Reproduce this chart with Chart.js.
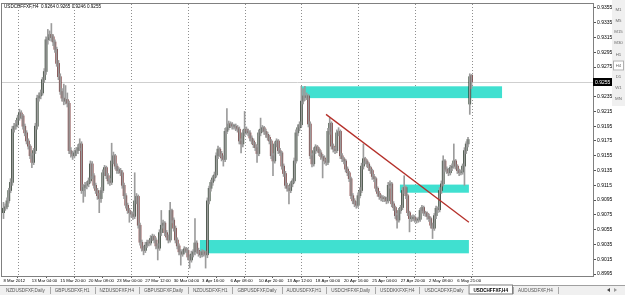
<!DOCTYPE html>
<html>
<head>
<meta charset="utf-8">
<script src="https://cdn.jsdelivr.net/npm/chart.js@4.4.1/dist/chart.umd.min.js"></script>
<style>
  html, body { margin: 0; padding: 0; background: #fff; }
</style>
</head>
<body>
<canvas id="grafico" width="625" height="295"></canvas>
<script>
// USDCHF H4 - precios en pips (x 0.0001), una vela por cada 4 horas
const aperturas = [
  9078, 9084, 9086, 9094, 9108, 9119, 9191, 9195, 9197, 9206,
  9213, 9209, 9195, 9186, 9175, 9168, 9155, 9146, 9162, 9195,
  9233, 9236, 9240, 9258, 9269, 9312, 9315, 9319, 9316, 9309,
  9299, 9280, 9262, 9242, 9233, 9229, 9231, 9226, 9162, 9158,
  9155, 9159, 9162, 9166, 9171, 9108, 9112, 9115, 9117, 9121,
  9144, 9128, 9115, 9108, 9101, 9097, 9108, 9132, 9139, 9128,
  9121, 9119, 9148, 9155, 9141, 9135, 9135, 9132, 9115, 9101,
  9088, 9081, 9078, 9076, 9073, 9094, 9100, 9061, 9038, 9030,
  9027, 9034, 9038, 9037, 9043, 9046, 9041, 9033, 9030, 9051,
  9061, 9064, 9051, 9045, 9041, 9081, 9068, 9057, 9041, 9033,
  9025, 9022, 9025, 9029, 9027, 9018, 9014, 9022, 9025, 9037,
  9027, 9023, 9021, 9025, 9023, 9021, 9094, 9111, 9119, 9125,
  9129, 9155, 9164, 9158, 9152, 9150, 9188, 9193, 9198, 9197,
  9195, 9195, 9193, 9191, 9175, 9171, 9186, 9191, 9188, 9186,
  9179, 9175, 9170, 9166, 9158, 9186, 9191, 9193, 9188, 9184,
  9180, 9175, 9155, 9148, 9171, 9175, 9162, 9159, 9141, 9131,
  9115, 9111, 9108, 9117, 9121, 9148, 9186, 9193, 9197, 9229,
  9236, 9234, 9236, 9198, 9155, 9144, 9162, 9167, 9164, 9159,
  9154, 9152, 9148, 9146, 9188, 9199, 9168, 9164, 9162, 9186,
  9188, 9155, 9151, 9148, 9137, 9132, 9124, 9101, 9094, 9090,
  9088, 9101, 9108, 9141, 9151, 9148, 9144, 9139, 9135, 9127,
  9124, 9111, 9104, 9100, 9098, 9097, 9097, 9094, 9115, 9117,
  9090, 9085, 9074, 9068, 9081, 9085, 9108, 9112, 9101, 9078,
  9070, 9070, 9072, 9069, 9068, 9069, 9081, 9085, 9078, 9077,
  9073, 9070, 9061, 9057, 9074, 9084, 9082, 9108, 9117, 9148,
  9137, 9135, 9132, 9139, 9141, 9148, 9141, 9135, 9132, 9133,
  9141, 9162, 9171, 9225, 9264
]
const maximos = [
  9092, 9090, 9098, 9111, 9124, 9195, 9199, 9203, 9210, 9218,
  9216, 9211, 9198, 9189, 9178, 9170, 9158, 9165, 9199, 9237,
  9240, 9244, 9261, 9273, 9316, 9326, 9324, 9334, 9319, 9312,
  9302, 9284, 9266, 9246, 9252, 9250, 9240, 9229, 9166, 9161,
  9163, 9166, 9170, 9178, 9174, 9116, 9119, 9120, 9125, 9148,
  9147, 9131, 9118, 9111, 9104, 9112, 9136, 9142, 9141, 9131,
  9124, 9172, 9160, 9157, 9144, 9139, 9138, 9135, 9118, 9104,
  9091, 9084, 9080, 9079, 9132, 9104, 9102, 9064, 9041, 9033,
  9038, 9041, 9041, 9047, 9049, 9048, 9044, 9036, 9055, 9081,
  9068, 9066, 9054, 9048, 9092, 9083, 9071, 9060, 9044, 9036,
  9028, 9028, 9032, 9031, 9030, 9021, 9026, 9028, 9070, 9040,
  9030, 9026, 9028, 9027, 9026, 9098, 9114, 9122, 9128, 9133,
  9159, 9168, 9166, 9161, 9155, 9192, 9219, 9202, 9201, 9200,
  9198, 9198, 9196, 9194, 9178, 9190, 9215, 9194, 9191, 9189,
  9182, 9178, 9173, 9169, 9190, 9206, 9196, 9195, 9191, 9187,
  9183, 9177, 9158, 9174, 9178, 9177, 9165, 9161, 9144, 9134,
  9118, 9114, 9120, 9124, 9152, 9190, 9197, 9201, 9249, 9246,
  9249, 9240, 9238, 9201, 9158, 9166, 9170, 9169, 9166, 9162,
  9157, 9155, 9150, 9192, 9206, 9201, 9171, 9166, 9190, 9193,
  9190, 9158, 9153, 9150, 9140, 9134, 9126, 9104, 9097, 9093,
  9105, 9112, 9145, 9171, 9153, 9150, 9146, 9141, 9137, 9130,
  9126, 9113, 9107, 9102, 9101, 9100, 9099, 9119, 9121, 9119,
  9093, 9087, 9077, 9084, 9088, 9112, 9128, 9114, 9103, 9080,
  9074, 9075, 9074, 9071, 9072, 9084, 9088, 9087, 9080, 9079,
  9076, 9072, 9064, 9077, 9087, 9086, 9112, 9121, 9155, 9150,
  9140, 9138, 9142, 9144, 9171, 9150, 9143, 9137, 9136, 9144,
  9166, 9174, 9180, 9266, 9265
]
const minimos = [
  9070, 9081, 9083, 9091, 9105, 9115, 9187, 9191, 9194, 9203,
  9205, 9191, 9182, 9171, 9164, 9151, 9139, 9143, 9158, 9191,
  9229, 9232, 9237, 9254, 9265, 9306, 9311, 9310, 9304, 9295,
  9276, 9258, 9238, 9229, 9224, 9225, 9221, 9158, 9153, 9150,
  9152, 9155, 9158, 9162, 9104, 9092, 9100, 9110, 9113, 9118,
  9124, 9111, 9104, 9096, 9078, 9092, 9105, 9128, 9124, 9117,
  9115, 9116, 9144, 9137, 9131, 9131, 9128, 9111, 9097, 9084,
  9077, 9065, 9072, 9069, 9070, 9090, 9057, 9034, 9026, 9021,
  9024, 9031, 9033, 9034, 9040, 9037, 9029, 9014, 9027, 9047,
  9057, 9047, 9041, 9037, 9038, 9064, 9053, 9037, 9029, 9021,
  9007, 9019, 9022, 9024, 9014, 9003, 9011, 9018, 9021, 9023,
  9019, 9017, 9018, 9019, 9003, 9017, 9090, 9107, 9115, 9121,
  9126, 9151, 9154, 9148, 9141, 9147, 9185, 9190, 9193, 9191,
  9191, 9189, 9187, 9171, 9159, 9167, 9182, 9184, 9182, 9175,
  9171, 9166, 9162, 9146, 9155, 9182, 9187, 9184, 9180, 9176,
  9171, 9151, 9128, 9145, 9167, 9158, 9155, 9137, 9127, 9111,
  9107, 9090, 9105, 9113, 9118, 9145, 9182, 9189, 9194, 9225,
  9230, 9231, 9194, 9151, 9140, 9141, 9158, 9160, 9155, 9150,
  9125, 9144, 9142, 9143, 9184, 9164, 9160, 9158, 9159, 9182,
  9151, 9147, 9144, 9133, 9128, 9120, 9097, 9090, 9086, 9084,
  9085, 9098, 9105, 9137, 9144, 9140, 9135, 9131, 9123, 9120,
  9107, 9100, 9096, 9094, 9093, 9093, 9090, 9091, 9111, 9086,
  9081, 9070, 9057, 9065, 9077, 9082, 9104, 9097, 9074, 9052,
  9066, 9067, 9065, 9064, 9065, 9066, 9077, 9074, 9073, 9069,
  9066, 9057, 9043, 9054, 9070, 9078, 9079, 9104, 9114, 9133,
  9131, 9128, 9129, 9135, 9138, 9137, 9131, 9128, 9129, 9130,
  9115, 9158, 9167, 9211, 9246
]
const cierres = [
  9084, 9086, 9094, 9108, 9119, 9191, 9195, 9197, 9206, 9213,
  9209, 9195, 9186, 9175, 9168, 9155, 9146, 9162, 9195, 9233,
  9236, 9240, 9258, 9269, 9312, 9315, 9319, 9316, 9309, 9299,
  9280, 9262, 9242, 9233, 9229, 9231, 9226, 9162, 9158, 9155,
  9159, 9162, 9166, 9171, 9108, 9112, 9115, 9117, 9121, 9144,
  9128, 9115, 9108, 9101, 9097, 9108, 9132, 9139, 9128, 9121,
  9119, 9148, 9155, 9141, 9135, 9135, 9132, 9115, 9101, 9088,
  9081, 9078, 9076, 9073, 9094, 9100, 9061, 9038, 9030, 9027,
  9034, 9038, 9037, 9043, 9046, 9041, 9033, 9030, 9051, 9061,
  9064, 9051, 9045, 9041, 9081, 9068, 9057, 9041, 9033, 9025,
  9022, 9025, 9029, 9027, 9018, 9014, 9022, 9025, 9037, 9027,
  9023, 9021, 9025, 9023, 9021, 9094, 9111, 9119, 9125, 9129,
  9155, 9164, 9158, 9152, 9150, 9188, 9193, 9198, 9197, 9195,
  9195, 9193, 9191, 9175, 9171, 9186, 9191, 9188, 9186, 9179,
  9175, 9170, 9166, 9158, 9186, 9191, 9193, 9188, 9184, 9180,
  9175, 9155, 9148, 9171, 9175, 9162, 9159, 9141, 9131, 9115,
  9111, 9108, 9117, 9121, 9148, 9186, 9193, 9197, 9229, 9236,
  9234, 9236, 9198, 9155, 9144, 9162, 9167, 9164, 9159, 9154,
  9152, 9148, 9146, 9188, 9199, 9168, 9164, 9162, 9186, 9188,
  9155, 9151, 9148, 9137, 9132, 9124, 9101, 9094, 9090, 9088,
  9101, 9108, 9141, 9151, 9148, 9144, 9139, 9135, 9127, 9124,
  9111, 9104, 9100, 9098, 9097, 9097, 9094, 9115, 9117, 9090,
  9085, 9074, 9068, 9081, 9085, 9108, 9112, 9101, 9078, 9070,
  9070, 9072, 9069, 9068, 9069, 9081, 9085, 9078, 9077, 9073,
  9070, 9061, 9057, 9074, 9084, 9082, 9108, 9117, 9148, 9137,
  9135, 9132, 9139, 9141, 9148, 9141, 9135, 9132, 9133, 9141,
  9162, 9171, 9177, 9262, 9255
]

// etiquetas del eje de tiempo, una cada 16 velas
const etiquetasTiempo = [
  '8 Mar 2012', '13 Mar 04:00', '15 Mar 20:00', '20 Mar 08:00', '23 Mar 00:00',
  '27 Mar 12:00', '30 Mar 04:00', '3 Apr 16:00', '6 Apr 08:00', '10 Apr 20:00',
  '13 Apr 12:00', '18 Apr 00:00', '20 Apr 16:00', '25 Apr 04:00', '27 Apr 20:00',
  '2 May 08:00', '6 May 21:00'
]
const velasPorEtiqueta = 16

// eje de precios
const preciosEje = [
  0.8995, 0.9015, 0.9035, 0.9055, 0.9075, 0.9095, 0.9115, 0.9135, 0.9155, 0.9175,
  0.9195, 0.9215, 0.9235, 0.9255, 0.9275, 0.9295, 0.9315, 0.9335, 0.9355
]

// zonas dibujadas (rectangulos) en velas y precios
const zonaInicio = [168.4, 110.8, 223.6]
const zonaFin = [281.2, 262.5, 262.5]
const zonaAlto = [0.9249, 0.9041, 0.9116]
const zonaBajo = [0.9233, 0.9023, 0.9105]

// linea de tendencia
const tendenciaVelas = [181.9, 262.5]
const tendenciaPrecios = [0.9211, 0.9065]

// pestanas y botones de la ventana
const pestanas = ['NZDUSDFXF,Daily', 'GBPUSDFXF,H1', 'NZDUSDFXF,H4', 'GBPUSDFXF,Daily', 'NZDUSDFXF,H1',
  'GBPUSDFXF,Daily', 'AUDUSDFXF,H1', 'USDCHFFXF,Daily', 'USDDKKFXF,H4', 'USDCADFXF,Daily',
  'USDCHFFXF,H4', 'AUDUSDFXF,H4']
const pestanaActiva = 10
const periodos = ['M1', 'M5', 'M15', 'M30', 'H1', 'H4', 'D1', 'W1', 'MN']
const periodoActivo = 5

const familia = '"Liberation Sans", Arial, sans-serif'
const fuente = (t, peso) => (peso || '') + ' ' + t + 'px ' + familia
const aPrecio = v => v / 10000

const ultima = cierres.length - 1
const precioActual = aPrecio(cierres[ultima])
const titulo = 'USDCHFFXF,H4  ' + [aperturas[ultima], maximos[ultima], minimos[ultima], cierres[ultima]]
  .map(v => aPrecio(v).toFixed(4)).join(' ')

const mechas = cierres.map((c, i) => ({ x: i, y: [aPrecio(minimos[i]), aPrecio(maximos[i])] }))
const cuerpos = cierres.map((c, i) => ({ x: i, y: [aPrecio(aperturas[i]), aPrecio(c)] }))
const coloresCuerpo = cierres.map((c, i) => c >= aperturas[i] ? '#0e220e' : '#6a1c1c')

const dibujosMT4 = {
    id: 'dibujosMT4',
    beforeDatasetsDraw(chart) {
        const { ctx, chartArea: a, scales: { x, y } } = chart
        ctx.save()
        ctx.beginPath()
        ctx.rect(a.left, a.top, a.right - a.left, a.bottom - a.top)
        ctx.clip()
        // lineas punteadas verticales
        ctx.strokeStyle = '#8f8f8f'
        ctx.lineWidth = 1
        ctx.setLineDash([1, 2])
        etiquetasTiempo.forEach((t, k) => {
            if (k % 2) return
            const px = Math.round(x.getPixelForValue(k * velasPorEtiqueta + velasPorEtiqueta / 2)) + 0.5
            ctx.beginPath()
            ctx.moveTo(px, a.top)
            ctx.lineTo(px, a.bottom)
            ctx.stroke()
        })
        ctx.setLineDash([])
        // linea del precio actual
        const py = Math.round(y.getPixelForValue(precioActual)) + 0.5
        ctx.strokeStyle = '#cfcfcf'
        ctx.beginPath()
        ctx.moveTo(a.left, py)
        ctx.lineTo(a.right, py)
        ctx.stroke()
        // rectangulos turquesa
        ctx.fillStyle = '#40e0d0'
        zonaInicio.forEach((z, i) => {
            const x0 = x.getPixelForValue(zonaInicio[i])
            const x1 = x.getPixelForValue(zonaFin[i])
            const y0 = y.getPixelForValue(zonaAlto[i])
            const y1 = y.getPixelForValue(zonaBajo[i])
            ctx.fillRect(x0, y0, x1 - x0, y1 - y0)
        })
        ctx.restore()
    },
    afterDatasetsDraw(chart) {
        const { ctx, scales: { x, y } } = chart
        ctx.save()
        ctx.strokeStyle = '#b5302a'
        ctx.lineWidth = 1.3
        ctx.beginPath()
        ctx.moveTo(x.getPixelForValue(tendenciaVelas[0]), y.getPixelForValue(tendenciaPrecios[0]))
        ctx.lineTo(x.getPixelForValue(tendenciaVelas[1]), y.getPixelForValue(tendenciaPrecios[1]))
        ctx.stroke()
        ctx.restore()
    },
    afterDraw(chart) {
        const { ctx, chartArea: a, scales: { y } } = chart
        const W = chart.width, H = chart.height
        ctx.save()
        // marco del grafico
        ctx.strokeStyle = '#808080'
        ctx.lineWidth = 1
        ctx.strokeRect(a.left - 0.5, a.top - 0.5, a.right - a.left + 1, a.bottom - a.top + 1)
        // titulo
        ctx.font = fuente(4.6)
        ctx.fillStyle = '#000'
        ctx.textBaseline = 'middle'
        ctx.textAlign = 'left'
        ctx.fillText(titulo, 4, 6.5)
        // caja del precio actual
        const py = Math.round(y.getPixelForValue(precioActual))
        ctx.fillStyle = '#000'
        ctx.fillRect(a.right, py - 4, 19, 8)
        ctx.fillStyle = '#fff'
        ctx.font = fuente(5)
        ctx.fillText(precioActual.toFixed(4), a.right + 2, py + 0.5)
        // botones de periodo
        ctx.fillStyle = '#f0f0f0'
        ctx.fillRect(612, 0, W - 612, 106)
        ctx.font = fuente(4.4)
        ctx.textAlign = 'center'
        periodos.forEach((p, i) => {
            const cy = 9.5 + i * 11.2
            if (i === periodoActivo) {
                ctx.fillStyle = '#fff'
                ctx.fillRect(613, cy - 5, 11, 10)
                ctx.strokeStyle = '#b0b0b0'
                ctx.strokeRect(613.5, cy - 4.5, 10, 9)
            }
            ctx.fillStyle = '#6a6a6a'
            ctx.fillText(p, 618.5, cy)
        })
        // barra de pestanas
        const ty = 285
        ctx.fillStyle = '#f0f0f0'
        ctx.fillRect(0, ty, W, H - ty)
        ctx.strokeStyle = '#a0a0a0'
        ctx.beginPath()
        ctx.moveTo(0, ty + 0.5)
        ctx.lineTo(W, ty + 0.5)
        ctx.stroke()
        ctx.textAlign = 'left'
        let px = 1
        pestanas.forEach((p, i) => {
            const activa = i === pestanaActiva
            ctx.font = fuente(4.6, activa ? 'bold' : '')
            const ancho = ctx.measureText(p).width + 10
            if (activa) {
                ctx.fillStyle = '#fff'
                ctx.fillRect(px, ty - 0.5, ancho, H - ty)
                ctx.strokeStyle = '#808080'
                ctx.strokeRect(px + 0.5, ty, ancho - 1, H - ty - 1)
            }
            ctx.fillStyle = activa ? '#000' : '#555'
            ctx.fillText(p, px + 5, ty + 5.5)
            ctx.strokeStyle = '#a8a8a8'
            ctx.beginPath()
            ctx.moveTo(Math.round(px + ancho) + 0.5, ty + 2)
            ctx.lineTo(Math.round(px + ancho) + 0.5, H - 1)
            ctx.stroke()
            px += ancho
        })
        // flechas de desplazamiento
        ctx.fillStyle = '#444'
        ctx.beginPath()
        ctx.moveTo(607, ty + 5); ctx.lineTo(610, ty + 3); ctx.lineTo(610, ty + 7); ctx.closePath()
        ctx.fill()
        ctx.fillStyle = '#999'
        ctx.beginPath()
        ctx.moveTo(617, ty + 5); ctx.lineTo(614, ty + 3); ctx.lineTo(614, ty + 7); ctx.closePath()
        ctx.fill()
        ctx.restore()
    }
}

function grafico_velas() {
    const ctx = document.getElementById('grafico')
    Chart.defaults.font.family = familia

    new Chart(ctx, {
        type: 'bar',
        data: {
            datasets: [{
                data: mechas,
                backgroundColor: '#9c9c9c',
                barThickness: 1,
                grouped: false,
                borderWidth: 0
            }, {
                data: cuerpos,
                backgroundColor: coloresCuerpo,
                barThickness: 2,
                grouped: false,
                borderWidth: 0,
                minBarLength: 1
            }]
        },
        options: {
            responsive: false,
            animation: false,
            layout: { padding: { left: 2, top: 2, right: 13, bottom: 0 } },
            plugins: { legend: { display: false }, tooltip: { enabled: false } },
            scales: {
                x: {
                    type: 'linear',
                    min: -0.85,
                    max: 332.5,
                    offset: false,
                    border: { display: false },
                    grid: { display: true, drawOnChartArea: false, tickLength: 2, color: '#555' },
                    afterBuildTicks: s => { s.ticks = etiquetasTiempo.map((t, k) => ({ value: k * velasPorEtiqueta })) },
                    afterFit: s => { s.height = 19 },
                    ticks: {
                        autoSkip: false,
                        maxRotation: 0,
                        minRotation: 0,
                        align: 'start',
                        padding: 0,
                        color: '#000',
                        font: { size: 4.3 },
                        callback: v => etiquetasTiempo[Math.round(v / velasPorEtiqueta)]
                    }
                },
                y: {
                    position: 'right',
                    min: 0.899231,
                    max: 0.936037,
                    border: { display: false },
                    grid: { display: true, drawOnChartArea: false, tickLength: 3, color: '#555' },
                    afterBuildTicks: s => { s.ticks = preciosEje.map(v => ({ value: v })) },
                    afterFit: s => { s.width = 19 },
                    ticks: {
                        padding: 1,
                        color: '#000',
                        font: { size: 5 },
                        callback: v => v.toFixed(4)
                    }
                }
            }
        },
        plugins: [dibujosMT4]
    })
}

grafico_velas()
</script>
</body>
</html>
